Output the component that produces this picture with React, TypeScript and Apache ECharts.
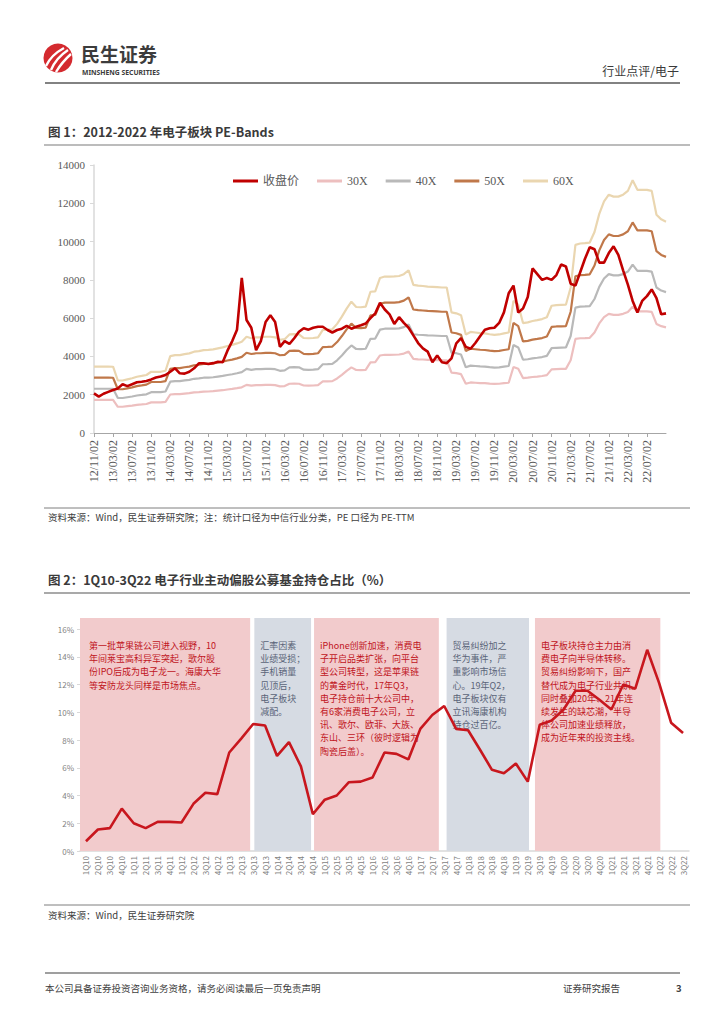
import React, { useEffect, useRef } from "react";
import * as echarts from "echarts";

// ---------- Figure 1: PE-Bands (monthly samples) ----------
const dates: string[] = [
  "2012-11-02", "2012-12-02",
  "2013-01-02", "2013-02-02", "2013-03-02", "2013-04-02", "2013-05-02", "2013-06-02", "2013-07-02", "2013-08-02", "2013-09-02", "2013-10-02", "2013-11-02", "2013-12-02",
  "2014-01-02", "2014-02-02", "2014-03-02", "2014-04-02", "2014-05-02", "2014-06-02", "2014-07-02", "2014-08-02", "2014-09-02", "2014-10-02", "2014-11-02", "2014-12-02",
  "2015-01-02", "2015-02-02", "2015-03-02", "2015-04-02", "2015-05-02", "2015-06-02", "2015-07-02", "2015-08-02", "2015-09-02", "2015-10-02", "2015-11-02", "2015-12-02",
  "2016-01-02", "2016-02-02", "2016-03-02", "2016-04-02", "2016-05-02", "2016-06-02", "2016-07-02", "2016-08-02", "2016-09-02", "2016-10-02", "2016-11-02", "2016-12-02",
  "2017-01-02", "2017-02-02", "2017-03-02", "2017-04-02", "2017-05-02", "2017-06-02", "2017-07-02", "2017-08-02", "2017-09-02", "2017-10-02", "2017-11-02", "2017-12-02",
  "2018-01-02", "2018-02-02", "2018-03-02", "2018-04-02", "2018-05-02", "2018-06-02", "2018-07-02", "2018-08-02", "2018-09-02", "2018-10-02", "2018-11-02", "2018-12-02",
  "2019-01-02", "2019-02-02", "2019-03-02", "2019-04-02", "2019-05-02", "2019-06-02", "2019-07-02", "2019-08-02", "2019-09-02", "2019-10-02", "2019-11-02", "2019-12-02",
  "2020-01-02", "2020-02-02", "2020-03-02", "2020-04-02", "2020-05-02", "2020-06-02", "2020-07-02", "2020-08-02", "2020-09-02", "2020-10-02", "2020-11-02", "2020-12-02",
  "2021-01-02", "2021-02-02", "2021-03-02", "2021-04-02", "2021-05-02", "2021-06-02", "2021-07-02", "2021-08-02", "2021-09-02", "2021-10-02", "2021-11-02", "2021-12-02",
  "2022-01-02", "2022-02-02", "2022-03-02", "2022-04-02", "2022-05-02", "2022-06-02", "2022-07-02", "2022-08-02", "2022-09-02", "2022-10-02", "2022-10-31",
];

const closePrice: number[] = [
  2070, 1900,
  2050, 2150, 2250, 2330, 2550, 2450, 2550, 2650, 2680, 2720, 2800, 2900,
  2950, 3030, 3200, 3380, 3120, 3100, 3200, 3380, 3640, 3640, 3600, 3650,
  3720, 3700, 4300, 4800, 5400, 8100, 5900, 5500, 4330, 4800, 5800, 6150,
  5800, 4500, 4800, 4650, 4950, 5290, 5470, 5400, 5500, 5550, 5550, 5380,
  5250, 5380, 5450, 5590, 5450, 5550, 5630, 5720, 6000, 6250, 6800, 6450,
  6200, 5700, 6050, 5750, 5500, 5100, 4700, 4420, 4250, 3700, 4050, 3700,
  3650, 3900, 4680, 4950, 4500, 4400, 4700, 5050, 5400, 5470, 5500, 5750,
  6300, 7300, 7700, 6300, 6500, 7100, 8600, 8300, 8000, 8100, 8000, 8250,
  8800, 8700, 7800, 7700, 8400, 9100, 9700, 9600, 8900, 8900, 9400, 9750,
  9300, 8500, 7750, 6900, 6300, 6900, 7150, 7500, 7050, 6200, 6250,
];

// index earnings (TTM) per point (band = multiple x earnings)
const epsTTM: number[] = [
  57.8, 57.8,
  57.8, 57.8, 57.7, 45.7, 45.7, 46.7, 47.7, 49.0, 49.7, 50.5, 53.3, 53.3,
  53.3, 54.2, 67.0, 67.8, 67.8, 68.7, 69.3, 70.8, 71.3, 72.2, 72.3, 72.8,
  73.7, 74.5, 75.7, 76.7, 78.0, 79.5, 83.8, 82.5, 83.3, 83.3, 83.8, 83.8,
  83.3, 81.2, 81.7, 85.8, 86.0, 85.8, 82.7, 82.5, 82.7, 83.3, 89.8, 90.0,
  90.3, 95.0, 101.3, 108.3, 114.3, 109.7, 109.5, 110.0, 123.0, 123.3, 135.0, 136.2,
  136.2, 136.3, 136.7, 138.3, 141.7, 129.0, 128.3, 128.0, 127.5, 127.3, 127.0, 126.7,
  126.7, 105.0, 104.2, 102.5, 85.8, 88.0, 87.5, 87.0, 86.7, 86.0, 85.5, 85.8,
  86.7, 87.5, 115.0, 111.7, 95.7, 96.3, 97.5, 98.3, 99.2, 100.8, 110.8, 111.3,
  111.5, 111.7, 126.7, 163.8, 165.0, 165.3, 165.8, 175.0, 190.8, 201.7, 207.5, 205.8,
  205.8, 207.5, 210.8, 220.0, 211.7, 211.7, 211.7, 210.8, 190.0, 186.0, 184.0,
];

const peMultiples = [30, 40, 50, 60];
const bandNames = ["30X", "40X", "50X", "60X"];
const bandColors = ["#EDBFBF", "#B9B9B9", "#C0784A", "#EAD6B0"];

// ---------- Figure 2: fund holdings ----------
const quarters: string[] = [
  "1Q10", "2Q10", "3Q10", "4Q10", "1Q11", "2Q11", "3Q11", "4Q11", "1Q12", "2Q12", "3Q12", "4Q12",
  "1Q13", "2Q13", "3Q13", "4Q13", "1Q14", "2Q14", "3Q14", "4Q14", "1Q15", "2Q15", "3Q15", "4Q15",
  "1Q16", "2Q16", "3Q16", "4Q16", "1Q17", "2Q17", "3Q17", "4Q17", "1Q18", "2Q18", "3Q18", "4Q18",
  "1Q19", "2Q19", "3Q19", "4Q19", "1Q20", "2Q20", "3Q20", "4Q20", "1Q21", "2Q21", "3Q21", "4Q21",
  "1Q22", "2Q22", "3Q22",
];
const fundHolding: number[] = [
  0.7, 1.55, 1.65, 3.05, 2.0, 1.65, 2.1, 2.1, 2.05, 3.4, 4.2, 4.1,
  7.1, 8.1, 9.15, 9.05, 6.85, 7.85, 6.1, 2.65, 3.7, 4.0, 4.95, 5.0,
  5.3, 7.1, 7.0, 6.6, 8.8, 9.8, 10.45, 8.8, 8.7, 7.3, 5.85, 5.6,
  6.3, 5.0, 9.1, 9.4, 10.2, 11.55, 11.55, 10.9, 10.2, 12.0, 11.7, 14.5,
  12.1, 9.25, 8.5,
];

// shaded periods, in quarter-cell units along the category axis
const periodStart = [0, 14.6, 19.6, 30.7, 38.1];
const periodEnd = [14.25, 19.35, 30.05, 37.6, 48.6];
const periodTop = 16.8;
const periodKind = ["pink", "gray", "pink", "gray", "pink"];
const periodNotes = [
  "第一批苹果链公司进入视野，10\n年间莱宝高科异军突起，歌尔股\n份IPO后成为电子龙一。海康大华\n等安防龙头同样是市场焦点。",
  "汇率因素\n业绩受损；\n手机销量\n见顶后，\n电子板块\n减配。",
  "iPhone创新加速，消费电\n子开启品类扩张，向平台\n型公司转型，这是苹果链\n的黄金时代，17年Q3，\n电子持仓前十大公司中，\n有6家消费电子公司，立\n讯、歌尔、欧菲、大族、\n东山、三环（彼时逻辑为\n陶瓷后盖）。",
  "贸易纠纷加之\n华为事件，严\n重影响市场信\n心。19年Q2，\n电子板块仅有\n立讯海康机构\n持仓过百亿。",
  "电子板块持仓主力由消\n费电子向半导体转移。\n贸易纠纷影响下，国产\n替代成为电子行业共识。\n同时叠加20年、21年连\n续发生的缺芯潮，半导\n体公司加速业绩释放，\n成为近年来的投资主线。",
];

const SANS = '"Noto Sans CJK SC", "Noto Sans", sans-serif';
const SERIF = '"Liberation Serif", "Noto Sans CJK SC", serif';
const DARK = "#3A3A3A";

function txt(text: string, x: number, y: number, fontSize: number, extra: any = {}) {
  return {
    type: "text",
    x,
    y,
    style: {
      text,
      fontSize,
      fontFamily: SANS,
      fill: DARK,
      verticalAlign: "top",
      ...extra,
    },
  };
}

function hline(x1: number, x2: number, y: number, stroke: string, lineWidth: number) {
  return { type: "line", shape: { x1, y1: y, x2, y2: y }, style: { stroke, lineWidth } };
}

export default function App() {
  const ref = useRef<HTMLDivElement>(null);

  useEffect(() => {
    document.body.style.margin = "0";
    document.body.style.background = "#ffffff";
    if (!ref.current) return;
    const chart = echarts.init(ref.current, null, { renderer: "svg" });

    const bandSeries = peMultiples.map((k, i) => ({
      name: bandNames[i],
      type: "line",
      xAxisIndex: 0,
      yAxisIndex: 0,
      data: epsTTM.map((e) => Math.round(e * k)),
      symbol: "none",
      lineStyle: { width: 2.2, color: bandColors[i] },
      itemStyle: { color: bandColors[i] },
      z: 2,
    }));

    const option: any = {
      animation: false,
      backgroundColor: "#ffffff",
      legend: {
        data: ["收盘价", "30X", "40X", "50X", "60X"],
        left: 228,
        top: 170,
        icon: "rect",
        itemWidth: 25,
        itemHeight: 3,
        itemGap: 18,
        textStyle: { fontFamily: SERIF, fontSize: 12, color: "#595959" },
      },
      grid: [
        { left: 94, top: 165, width: 572, height: 268 },
        { left: 80, top: 629, width: 609, height: 222 },
      ],
      xAxis: [
        {
          type: "category",
          gridIndex: 0,
          data: dates,
          boundaryGap: false,
          axisLine: { lineStyle: { color: "#A6A6A6", width: 1 } },
          axisTick: {
            show: true,
            length: 4,
            interval: (i: number) => i % 4 === 0 && i <= 116,
            lineStyle: { color: "#A6A6A6" },
          },
          axisLabel: {
            rotate: 90,
            margin: 7,
            fontSize: 12,
            fontFamily: SERIF,
            color: "#595959",
            interval: (i: number) => i % 4 === 0 && i <= 116,
            formatter: (v: string) => `${v.slice(2, 4)}/${v.slice(5, 7)}/${v.slice(8, 10)}`,
          },
          splitLine: { show: false },
        },
        {
          type: "category",
          gridIndex: 1,
          data: quarters,
          boundaryGap: true,
          axisLine: { lineStyle: { color: "#D9D9D9", width: 1.5 } },
          axisTick: { show: false },
          axisLabel: {
            rotate: 90,
            margin: 5,
            fontSize: 8,
            fontFamily: SANS,
            color: "#7F7F7F",
            interval: 0,
          },
          splitLine: { show: false },
        },
        {
          type: "value",
          gridIndex: 1,
          min: 0,
          max: quarters.length,
          show: false,
          splitLine: { show: false },
        },
      ],
      yAxis: [
        {
          type: "value",
          gridIndex: 0,
          min: 0,
          max: 14000,
          interval: 2000,
          axisLine: { show: true, lineStyle: { color: "#D9D9D9", width: 1.5 } },
          axisTick: { show: true, length: 4, lineStyle: { color: "#D9D9D9" } },
          axisLabel: {
            fontSize: 11,
            fontFamily: SERIF,
            color: "#595959",
            margin: 9,
            formatter: (v: number) => String(v),
          },
          splitLine: { show: false },
        },
        {
          type: "value",
          gridIndex: 1,
          min: 0,
          max: 16,
          interval: 2,
          axisLine: { show: true, lineStyle: { color: "#D9D9D9", width: 1 } },
          axisTick: { show: true, length: 3, lineStyle: { color: "#D9D9D9" } },
          axisLabel: { fontSize: 8, fontFamily: SANS, color: "#7F7F7F", formatter: "{value}%", margin: 6 },
          splitLine: { show: false },
        },
      ],
      series: [
        ...bandSeries,
        {
          name: "收盘价",
          type: "line",
          xAxisIndex: 0,
          yAxisIndex: 0,
          data: closePrice,
          symbol: "none",
          lineStyle: { width: 2.6, color: "#C00000" },
          itemStyle: { color: "#C00000" },
          z: 4,
        },
        {
          name: "periods",
          type: "custom",
          xAxisIndex: 2,
          yAxisIndex: 1,
          clip: false,
          z: 1,
          encode: { x: [0, 1], y: 2 },
          data: periodStart.map((s, i) => [s, periodEnd[i], 0]),
          renderItem: (params: any, api: any) => {
            const i = params.dataIndex;
            const p0 = api.coord([api.value(0), periodTop]);
            const p1 = api.coord([api.value(1), 0]);
            const pink = periodKind[i] === "pink";
            return {
              type: "group",
              children: [
                {
                  type: "rect",
                  shape: { x: p0[0], y: p0[1], width: p1[0] - p0[0], height: p1[1] - p0[1] },
                  style: { fill: pink ? "#F2CBCC" : "#D6DBE3" },
                },
                {
                  type: "text",
                  x: p0[0] + (i === 0 ? 9 : 6),
                  y: p0[1] + 21,
                  style: {
                    text: periodNotes[i],
                    fill: pink ? "#C0141C" : "#5A6478",
                    fontSize: 9,
                    fontFamily: SANS,
                    lineHeight: 13.2,
                    verticalAlign: "top",
                  },
                },
              ],
            };
          },
        },
        {
          name: "持仓占比",
          type: "line",
          xAxisIndex: 1,
          yAxisIndex: 1,
          data: fundHolding,
          symbol: "none",
          lineStyle: { width: 2.6, color: "#C8171E" },
          itemStyle: { color: "#C8171E" },
          z: 5,
        },
      ],
      graphic: [
        // logo
        { type: "circle", shape: { cx: 58, cy: 58, r: 14.5 }, style: { fill: "#D42A2F" } },
        {
          type: "bezierCurve",
          shape: { x1: 46, y1: 66, x2: 64, y2: 48, cpx1: 51, cpy1: 55 },
          style: { stroke: "#ffffff", lineWidth: 2.4, fill: null },
        },
        {
          type: "bezierCurve",
          shape: { x1: 51, y1: 70, x2: 68, y2: 50, cpx1: 56, cpy1: 58 },
          style: { stroke: "#ffffff", lineWidth: 2.4, fill: null },
        },
        {
          type: "bezierCurve",
          shape: { x1: 56, y1: 72, x2: 71, y2: 54, cpx1: 62, cpy1: 62 },
          style: { stroke: "#ffffff", lineWidth: 2.4, fill: null },
        },
        txt("民生证券", 81, 43.5, 19, { fontWeight: "bold", fill: "#3C3C3C", lineHeight: 19 }),
        txt("MINSHENG SECURITIES", 82, 69, 6.8, {
          fontWeight: "bold",
          fill: "#3C3C3C",
          lineHeight: 7,
          fontFamily: '"Noto Sans", sans-serif',
        }),
        txt("行业点评/电子", 679, 64, 12, { align: "right" }),
        hline(45, 680, 83, "#595959", 1.5),

        // figure 1 title and note
        txt("图 1：2012-2022 年电子板块 PE-Bands", 48, 125, 12.5, { fontWeight: "bold" }),
        hline(44, 690, 145, "#A6A6A6", 1.5),
        hline(44, 690, 508, "#7F7F7F", 1),
        txt("资料来源：Wind，民生证券研究院；注：统计口径为中信行业分类，PE 口径为 PE-TTM", 48, 512, 9.5, { fill: "#404040" }),

        // figure 2 title and note
        txt("图 2：1Q10-3Q22 电子行业主动偏股公募基金持仓占比（%）", 48, 573, 12.5, { fontWeight: "bold" }),
        hline(44, 690, 593, "#8C8C8C", 1.5),
        hline(44, 690, 905, "#7F7F7F", 1),
        txt("资料来源：Wind，民生证券研究院", 48, 910, 9.5, { fill: "#404040" }),

        // footer
        hline(45, 680, 973, "#7F7F7F", 1.5),
        txt("本公司具备证券投资咨询业务资格，请务必阅读最后一页免责声明", 45, 983, 9.5, { fill: "#404040" }),
        txt("证券研究报告", 563, 983, 9.5, { fill: "#404040" }),
        txt("3", 676, 983, 9.5, { fill: "#404040", fontWeight: "bold" }),
      ],
    };

    chart.setOption(option);
    return () => {
      chart.dispose();
    };
  }, []);

  return <div ref={ref} style={{ width: 724, height: 1024, background: "#ffffff" }} />;
}
